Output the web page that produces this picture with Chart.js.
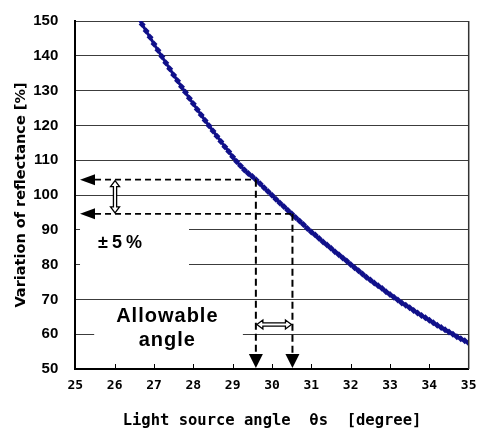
<!DOCTYPE html>
<html>
<head>
<meta charset="utf-8">
<script src="https://cdn.jsdelivr.net/npm/chart.js@4.4.1/dist/chart.umd.min.js"></script>
<style>
html,body{margin:0;padding:0;background:#fff;}
#wrap{width:479px;height:434px;}
</style>
</head>
<body>
<div id="wrap"><canvas id="c" width="479" height="434"></canvas></div>
<script>
// ---- data ----
const angles = [26.6,26.7,26.8,26.9,27.0,27.1,27.2,27.3,27.4,27.5,27.6,27.7,27.8,27.9,28.0,28.1,28.2,28.3,28.4,28.5,28.6,28.7,28.8,28.9,29.0,29.1,29.2,29.3,29.4,29.5,29.6,29.7,29.8,29.9,30.0,30.1,30.2,30.3,30.4,30.5,30.6,30.7,30.8,30.9,31.0,31.1,31.2,31.3,31.4,31.5,31.6,31.7,31.8,31.9,32.0,32.1,32.2,32.3,32.4,32.5,32.6,32.7,32.8,32.9,33.0,33.1,33.2,33.3,33.4,33.5,33.6,33.7,33.8,33.9,34.0,34.1,34.2,34.3,34.4,34.5,34.6,34.7,34.8,34.9,35.0];
const reflectance = [150.9,149.0,147.1,145.3,143.4,141.6,139.8,138.0,136.3,134.5,132.8,131.1,129.5,127.8,126.2,124.6,123.0,121.4,119.9,118.4,116.9,115.4,113.9,112.5,111.0,109.6,108.4,107.2,106.2,105.3,104.3,103.2,102.1,101.0,99.9,98.8,97.7,96.7,95.6,94.6,93.5,92.5,91.5,90.4,89.4,88.5,87.5,86.5,85.6,84.7,83.7,82.8,81.9,81.0,80.0,79.1,78.2,77.3,76.4,75.6,74.7,73.9,73.1,72.2,71.4,70.6,69.8,69.0,68.3,67.6,66.8,66.1,65.4,64.7,64.0,63.3,62.6,61.9,61.3,60.6,60.0,59.3,58.7,58.1,57.5];
const xTicks = [25,26,27,28,29,30,31,32,33,34,35];
const yTicks = [50,60,70,80,90,100,110,120,130,140,150];
const toleranceLevels = [104.4, 94.6];   // ±5% band
const allowableAngles = [29.59, 30.52];  // allowable angle range
const labelTolerance = '±5%';
const labelAllowable = ['Allowable', 'angle'];
const xTitle = 'Light source angle  θs  [degree]';
const yTitle = 'Variation of reflectance [%]';

const points = angles.map((a, i) => ({x: a, y: reflectance[i]}));
const navy = '#10108a';

function hollowDoubleArrow(ctx, x1, y1, x2, y2) {
  const dx = x2 - x1, dy = y2 - y1, len = Math.hypot(dx, dy);
  const ux = dx / len, uy = dy / len, nx = -uy, ny = ux;
  const hl = 6, hw = 4.5, sw = 1.6;
  const pts = [
    [0, 0], [hl, hw], [hl, sw], [len - hl, sw], [len - hl, hw], [len, 0],
    [len - hl, -hw], [len - hl, -sw], [hl, -sw], [hl, -hw]
  ];
  ctx.beginPath();
  pts.forEach((p, i) => {
    const px = x1 + ux * p[0] + nx * p[1];
    const py = y1 + uy * p[0] + ny * p[1];
    if (i === 0) ctx.moveTo(px, py); else ctx.lineTo(px, py);
  });
  ctx.closePath();
  ctx.fillStyle = '#fff';
  ctx.fill();
  ctx.lineWidth = 1.3;
  ctx.strokeStyle = '#000';
  ctx.stroke();
}

const annotate = {
  id: 'annotate',
  afterDatasetsDraw(chart) {
    const ctx = chart.ctx, xs = chart.scales.x, ys = chart.scales.y, ca = chart.chartArea;
    ctx.save();
    ctx.strokeStyle = '#333';
    ctx.lineWidth = 1.5;
    ctx.beginPath();
    ctx.moveTo(ca.right, ca.top);
    ctx.lineTo(ca.right, ca.bottom);
    ctx.stroke();
    ctx.strokeStyle = '#000';
    ctx.lineWidth = 1;
    xTicks.slice(1, -1).forEach(t => {
      const px = Math.round(xs.getPixelForValue(t)) + 0.5;
      ctx.beginPath();
      ctx.moveTo(px, ca.bottom);
      ctx.lineTo(px, ca.bottom - 5);
      ctx.stroke();
    });
    ctx.fillStyle = '#fff';
    let bx1 = xs.getPixelForValue(25.12), bx2 = xs.getPixelForValue(27.89);
    let by1 = ys.getPixelForValue(93.7), by2 = ys.getPixelForValue(70.6);
    ctx.fillRect(bx1, by1, bx2 - bx1, by2 - by1);
    bx1 = xs.getPixelForValue(25.48); bx2 = xs.getPixelForValue(29.26);
    by1 = ys.getPixelForValue(69.0); by2 = ys.getPixelForValue(52.3);
    ctx.fillRect(bx1, by1, bx2 - bx1, by2 - by1);

    ctx.strokeStyle = '#000';
    ctx.fillStyle = '#000';
    const tipX = xs.getPixelForValue(25.12);
    toleranceLevels.forEach((lvl, i) => {
      const py = ys.getPixelForValue(lvl);
      const vx = xs.getPixelForValue(allowableAngles[i]);
      ctx.setLineDash([6, 4]);
      ctx.lineWidth = 1.7;
      ctx.beginPath();
      ctx.moveTo(tipX + 15, py);
      ctx.lineTo(vx, py);
      ctx.stroke();
      ctx.lineWidth = 2;
      ctx.setLineDash([7, 4]);
      ctx.beginPath();
      ctx.moveTo(vx, py);
      ctx.lineTo(vx, ca.bottom - 14);
      ctx.stroke();
      ctx.setLineDash([]);
      ctx.beginPath();
      ctx.moveTo(tipX, py);
      ctx.lineTo(tipX + 15, py - 5.5);
      ctx.lineTo(tipX + 15, py + 5.5);
      ctx.closePath();
      ctx.fill();
      ctx.beginPath();
      ctx.moveTo(vx, ca.bottom - 1);
      ctx.lineTo(vx - 7, ca.bottom - 15);
      ctx.lineTo(vx + 7, ca.bottom - 15);
      ctx.closePath();
      ctx.fill();
    });
    const ax = xs.getPixelForValue(26.01);
    hollowDoubleArrow(ctx, ax, ys.getPixelForValue(toleranceLevels[0]) + 1, ax, ys.getPixelForValue(toleranceLevels[1]) - 1);
    const ay = ys.getPixelForValue(62.8);
    hollowDoubleArrow(ctx, xs.getPixelForValue(allowableAngles[0]) + 1, ay, xs.getPixelForValue(allowableAngles[1]) - 1, ay);

    ctx.fillStyle = '#000';
    ctx.textBaseline = 'middle';
    ctx.textAlign = 'left';
    ctx.font = 'bold 18px "Liberation Sans", Arial, sans-serif';
    ctx.letterSpacing = '4px';
    ctx.fillText(labelTolerance, xs.getPixelForValue(25.58), ys.getPixelForValue(86.3));
    ctx.textAlign = 'center';
    ctx.font = 'bold 20px "Liberation Sans", Arial, sans-serif';
    ctx.letterSpacing = '1px';
    const cx = xs.getPixelForValue(27.34);
    ctx.fillText(labelAllowable[0], cx, ys.getPixelForValue(65.1));
    ctx.fillText(labelAllowable[1], cx, ys.getPixelForValue(58.2));
    ctx.restore();
  }
};

new Chart(document.getElementById('c'), {
  type: 'scatter',
  data: {
    datasets: [{
      data: points,
      showLine: true,
      borderColor: navy,
      backgroundColor: navy,
      borderWidth: 3,
      pointStyle: 'rectRot',
      pointRadius: 3.5,
      pointBorderWidth: 0,
      tension: 0
    }]
  },
  options: {
    responsive: false,
    animation: false,
    devicePixelRatio: 1,
    layout: {padding: {left: 0, top: 21, right: 10.3, bottom: 0}},
    plugins: {legend: {display: false}, tooltip: {enabled: false}},
    scales: {
      x: {
        type: 'linear', min: 25, max: 35,
        afterBuildTicks: s => { s.ticks = xTicks.map(v => ({value: v})); },
        afterFit: s => { s.height = 65; s.paddingLeft = 0; s.paddingRight = 0; },
        grid: {display: false, drawTicks: false},
        border: {display: true, color: '#000', width: 2},
        ticks: {
          padding: 9,
          color: '#000',
          font: {family: '"DejaVu Sans Mono", monospace', weight: 'bold', size: 13}
        },
        title: {
          display: true, text: xTitle, color: '#000',
          font: {family: '"DejaVu Sans Mono", monospace', weight: 'bold', size: 15.5},
          padding: {top: 0, bottom: 4}
        }
      },
      y: {
        type: 'linear', min: 50, max: 150,
        afterBuildTicks: s => { s.ticks = yTicks.map(v => ({value: v})); },
        afterFit: s => { s.width = 75.3; s.paddingTop = 0; s.paddingBottom = 0; },
        grid: {display: true, drawTicks: false, color: '#3c3c3c', lineWidth: 1},
        border: {display: true, color: '#000', width: 2},
        ticks: {
          padding: 17,
          color: '#000',
          font: {family: '"Liberation Sans", Arial, sans-serif', weight: 'bold', size: 15}
        },
        title: {
          display: true, text: yTitle, color: '#000',
          font: {family: '"DejaVu Sans", sans-serif', weight: 'bold', size: 14.5},
          padding: {top: 13, bottom: 0}
        }
      }
    }
  },
  plugins: [annotate]
});
</script>
</body>
</html>
